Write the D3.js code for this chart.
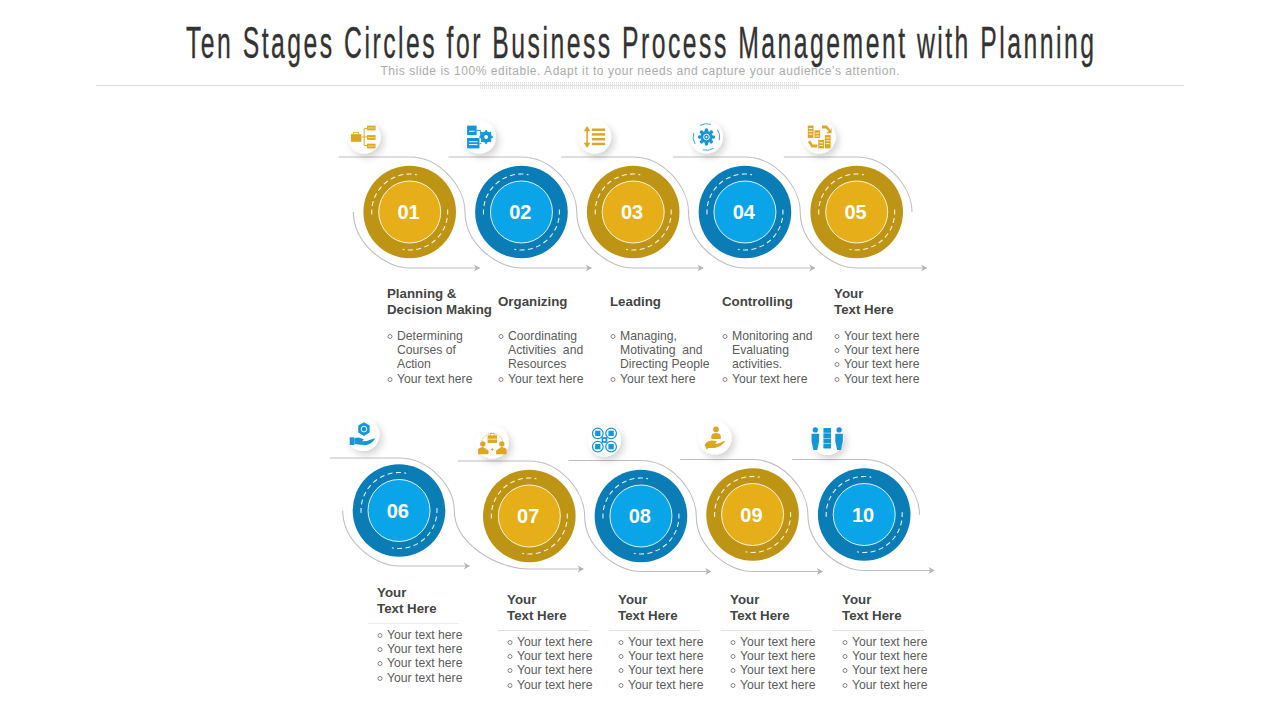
<!DOCTYPE html>
<html><head><meta charset="utf-8">
<script src="https://cdn.jsdelivr.net/npm/d3@7/dist/d3.min.js"></script>
<style>html,body{margin:0;background:#fff}svg{display:block}</style></head>
<body><svg id="c" width="1280" height="720"></svg>
<script>
// ---- data ----
const titleText = "Ten Stages Circles for Business Process Management with Planning";
const subtitleText = "This slide is 100% editable. Adapt it to your needs and capture your audience's attention.";
const stageNumbers = ["01","02","03","04","05","06","07","08","09","10"];
const stageThemes = ["gold","blue","gold","blue","gold","blue","gold","blue","gold","blue"];
const stageHeadings = [
  ["Planning &","Decision Making"],["Organizing"],["Leading"],["Controlling"],["Your","Text Here"],
  ["Your","Text Here"],["Your","Text Here"],["Your","Text Here"],["Your","Text Here"],["Your","Text Here"]];
const yt = "Your text here";
const stageBullets = [
  [["Determining","Courses of","Action"],[yt]],
  [["Coordinating","Activities  and","Resources"],[yt]],
  [["Managing,","Motivating  and","Directing People"],[yt]],
  [["Monitoring and","Evaluating","activities."],[yt]],
  [[yt],[yt],[yt],[yt]],
  [[yt],[yt],[yt],[yt]],[[yt],[yt],[yt],[yt]],[[yt],[yt],[yt],[yt]],[[yt],[yt],[yt],[yt]],[[yt],[yt],[yt],[yt]]];
const stageIcons = ["org","docs","list","gear","swap","handHex","team","cluster","handUser","people"];

// ---- layout (separate from data) ----
const palette = {gold:{outer:"#BE9414",inner:"#E6AE18",icon:"#DCA622"},blue:{outer:"#0A7CB6",inner:"#0AA4E8",icon:"#1596D8"}};
const col = d3.scaleLinear().domain([0,4]);
const xRow = [col.copy().range([409.7,856.7]), col.copy().range([417.7,864.2])];
const xNudge = [0,0,0,0,0,-18.7,0,0,0,0];
const yBase = d3.scaleOrdinal().domain([0,1]).range([212,516]);
const yNudge = [0,0,0,0,0,-5.5,0,0,-1.5,-1.5];
const stage = stageNumbers.map((n,i)=>{
  const r = i<5?0:1, c = i%5;
  return {i,r,c,n,cx:xRow[r](c)+xNudge[i],cy:yBase(r)+yNudge[i],theme:palette[stageThemes[i]],
    heading:stageHeadings[i],bullets:stageBullets[i],icon:stageIcons[i]};
});
const R=46.3, Ri=31, Rd=38;
const badgeOffset = [[-45.5,-75],[-42,-75],[-38.5,-75],[-38.5,-75],[-37.5,-75],[-36,-76],[-37,-74],[-36.5,-76],[-37.5,-76.5],[-37,-76]];
const topLeft = [71,73,72,72,73,69,71.5,72.5,72.5,72];
const pathTop = [157,157,157,157,157,458,461,460.5,459.5,459.5];
const bottomY = [268,268,268,268,268,566,569,571.5,571.5,570.5];
const arrowTipDx = [70,70,70,70,70,70.5,54,70,70,70];
const sweep = 55.3;

const svg = d3.select("#c");
const defs = svg.append("defs");
const f = defs.append("filter").attr("id","sh").attr("x","-60%").attr("y","-60%").attr("width","220%").attr("height","220%");
f.append("feDropShadow").attr("dx",3).attr("dy",4).attr("stdDeviation",3.5).attr("flood-color","#000").attr("flood-opacity",0.17);
const m = defs.append("marker").attr("id","arw").attr("viewBox","0 0 10 10").attr("refX",9).attr("refY",5).attr("markerWidth",8).attr("markerHeight",8).attr("markerUnits","userSpaceOnUse").attr("orient","auto");
m.append("path").attr("d","M2,0.5 L9.5,5 L2,9.5 L4,5 Z").attr("fill","#b5b5b5");

// header
const tScale = 0.55;
const tg = svg.append("g").attr("transform",`translate(640,58) scale(${tScale},1)`);
tg.append("text").attr("text-anchor","middle").attr("font-family","'Liberation Sans Narrow','Liberation Sans',sans-serif")
  .attr("font-size",45).attr("fill","#333").attr("stroke","#333").attr("stroke-width",0.35)
  .attr("textLength",908/tScale).attr("lengthAdjust","spacing").text(titleText);
svg.append("text").attr("x",640).attr("y",75).attr("text-anchor","middle").attr("font-family","'Liberation Sans',sans-serif")
  .attr("font-size",12).attr("fill","#ababab").attr("textLength",519).attr("lengthAdjust","spacing").text(subtitleText);
svg.append("line").attr("x1",96).attr("x2",1184).attr("y1",85.5).attr("y2",85.5).attr("stroke","#dcdcdc");
svg.append("line").attr("x1",480).attr("x2",800).attr("y1",85.5).attr("y2",85.5).attr("stroke","#e6e6e6").attr("stroke-width",7).attr("stroke-dasharray","1 1");

// connectors
const gc = svg.append("g").attr("fill","none").attr("stroke","#bfbfbf").attr("stroke-width",1.1);
function connectorPath(a,b){
  const p=d3.path(), rt=a.cy-pathTop[a.i], tx=a.cx;
  p.moveTo(a.cx-topLeft[a.i],pathTop[a.i]); p.lineTo(tx,pathTop[a.i]);
  const ex=a.cx+sweep, my=a.cy;
  p.bezierCurveTo(tx+(ex-tx)*0.56,pathTop[a.i],ex,my-rt*0.44,ex,my);
  if(b){
    const by=bottomY[b.i], rb=by-my;
    p.bezierCurveTo(ex,my+rb*0.56,b.cx-(b.cx-ex)*0.44,by,b.cx,by);
    p.lineTo(b.cx+arrowTipDx[b.i],by);
  }
  return p.toString();
}
function entryPath(a){
  const p=d3.path(), by=bottomY[a.i], sx=a.cx-sweep-1;
  p.moveTo(sx,a.cy); p.bezierCurveTo(sx,a.cy+(by-a.cy)*0.56,a.cx-sweep*0.44,by,a.cx,by); p.lineTo(a.cx+arrowTipDx[a.i],by);
  return p.toString();
}
[0,1].forEach(r=>{
  const row=stage.filter(s=>s.r===r);
  gc.append("path").attr("d",entryPath(row[0])).attr("marker-end","url(#arw)");
  row.forEach((s,k)=>{const n=row[k+1];
    gc.append("path").attr("d",connectorPath(s,n)).attr("marker-end",n?"url(#arw)":null);});
});

// discs
const discs = svg.selectAll("g.disc").data(stage).join("g").attr("class","disc").attr("transform",d=>`translate(${d.cx},${d.cy})`);
discs.append("circle").attr("r",R).attr("fill",d=>d.theme.outer);
discs.append("circle").attr("r",Ri).attr("fill",d=>d.theme.inner).attr("stroke","#fff").attr("stroke-opacity",.85).attr("stroke-width",1);
function dashArc(a0,a1){const p=d3.path();p.arc(0,0,Rd,a0,a1);return p.toString();}
[[Math.PI*0.98,Math.PI*1.56],[-Math.PI*0.02,Math.PI*0.56]].forEach(([a0,a1])=>{
  discs.append("path").attr("d",dashArc(a0,a1)).attr("fill","none").attr("stroke","#fff").attr("stroke-opacity",.9).attr("stroke-width",1.1).attr("stroke-dasharray","5 3.4");
});
discs.append("text").attr("text-anchor","middle").attr("x",-1.2).attr("y",7).attr("font-family","'Liberation Sans',sans-serif").attr("font-weight",700)
  .attr("font-size",20).attr("fill","#fff").text(d=>d.n);

// icons
function glyph(g,type,c){
  const rect=(x,y,w,h)=>g.append("rect").attr("x",x).attr("y",y).attr("width",w).attr("height",h).attr("fill",c);
  const circ=(x,y,r)=>g.append("circle").attr("cx",x).attr("cy",y).attr("r",r).attr("fill",c);
  const path=(d,w)=>g.append("path").attr("d",d).attr("fill",w?"none":c).attr("stroke",w?c:"none").attr("stroke-width",w||0);
  const W="#fff";
  if(type==="org"){
    rect(-14,-3,11,8); path("M-11,-3v-2h5v2",1);
    path("M-3,0H0M0,-9V9M0,-9H3M0,0H3M0,9H3",1);
    [-12,-2,7].forEach(y=>{rect(3,y,9,5);g.append("path").attr("d",`M4,${y+2.5}h7`).attr("stroke",W).attr("stroke-width",.6);});
  } else if(type==="docs"){
    rect(-13,-12,10,10);rect(-13,1,13,11);
    g.append("path").attr("d","M-11,-6h6M-11,5h9M-11,8h9").attr("stroke",W).attr("stroke-width",1);
    path("M-3,-7H1V-1M0,7H2",1);
    circ(7,0,6);g.append("circle").attr("cx",7).attr("cy",0).attr("r",2).attr("fill",W);
    d3.range(8).forEach(k=>{const a=k*Math.PI/4;circ(7+6.2*Math.cos(a),6.2*Math.sin(a),1.1);});
  } else if(type==="list"){
    [-8,-3,2,7].forEach(y=>rect(-3,y-1,14,2.6));
    path("M-8,-8V8",1.6);path("M-11.5,-6L-8,-11.5L-4.5,-6Z");path("M-11.5,6L-8,11.5L-4.5,6Z");
  } else if(type==="gear"){
    circ(0,0,6.5);d3.range(8).forEach(k=>{const a=k*Math.PI/4;circ(7.2*Math.cos(a),7.2*Math.sin(a),1.9);});
    g.append("circle").attr("r",3).attr("fill","none").attr("stroke",W).attr("stroke-width",1);
    circ(0,0,1).attr("fill",W);
    [-0.6,1.0,2.6,4.2].forEach(a=>{const p=d3.path();p.arc(0,0,14,a,a+.85);path(p.toString(),.9);});
  } else if(type==="swap"){
    rect(-12,-12,6,13);rect(-5,-7,6,8);rect(-1,3,6,9);rect(6,-2,6,14);
    g.append("path").attr("d","M-11,-9h4M-11,-6h4M-11,-3h4M-4,-4h4M-4,-1h4M0,6h4M0,9h4M7,1h4M7,4h4M7,7h4").attr("stroke",W).attr("stroke-width",.9);
    path("M3,-12H8L12,-7L13,-10V-4H7L10,-6L7,-9H3Z");path("M-12,5L-9,4L-7,8L-2,8V11H-8Z");
  } else if(type==="handHex"){
    path("M1,-13L7,-9.5V-2L1,1.5L-5,-2V-9.5Z");
    g.append("circle").attr("cx",1).attr("cy",-5.7).attr("r",3).attr("fill","none").attr("stroke",W).attr("stroke-width",1);
    rect(-14,3,5,8);path("M-9,4C-5,2 -2,4 1,5L-1,7C4,8 8,5 13,4C10,9 5,12 0,11L-9,10Z");
  } else if(type==="team"){
    g.append("path").attr("d","M-11,-1A11.5,11.5 0 0 1 11,-1").attr("fill","none").attr("stroke",c).attr("stroke-width",.8).attr("stroke-dasharray","1.5 1");
    rect(-5,-7,10,8);path("M-2,-7v-2h4v2",.9);
    g.append("path").attr("d","M-5,-3h10").attr("stroke",W).attr("stroke-width",.8);
    circ(-10,2,2.8);circ(10,2,2.8);path("M-15,13V7L-10,5L-4,9V13Z");path("M15,13V7L10,5L4,9V13Z");
    g.append("path").attr("d","M-1.5,8h3M0,6.5v3").attr("stroke",c).attr("stroke-width",1);
  } else if(type==="cluster"){
    [[-7,-7],[7,-7],[-7,7],[7,7]].forEach(([x,y])=>{
      g.append("circle").attr("cx",x).attr("cy",y).attr("r",5.6).attr("fill","none").attr("stroke",c).attr("stroke-width",1.3);
      rect(x-2.8,y-2.8,5.6,5.6);
    });
    rect(-3,-3,6,6);g.append("circle").attr("r",1.3).attr("fill",W);
  } else if(type==="handUser"){
    circ(1,-9,3);path("M-4,-2C-4,-6.5 6,-6.5 6,-2V1H-4Z");
    path("M-11,7C-8,2 -3,2 2,3.5L0,6C4,6 7,4 11,2.5C8,7 4,10.5 -3,10.5L-7,10.5L-9,12Z");
  } else if(type==="people"){
    [-11,-5.5,0,5.5].forEach(y=>rect(-4,y,8,5));
    [-12.5,12.5].forEach(x=>{circ(x,-9,2.8);path(`M${x-4},-5H${x+4}V3L${x+2},12H${x-2}L${x-4},3Z`);});
  }
}
const badges = svg.selectAll("g.badge").data(stage).join("g").attr("class","badge")
  .attr("transform",d=>`translate(${d.cx+badgeOffset[d.i][0]},${d.cy+badgeOffset[d.i][1]})`);
badges.append("circle").attr("r",16.5).attr("fill","#fff").attr("filter","url(#sh)");
badges.each(function(d){glyph(d3.select(this).append("g").attr("transform","scale(0.95)"),d.icon,d.theme.icon);});

// text blocks
const textLeft = [387,498,610,722,834,377,507,618,730,842];
const headY = [298,306,306,306,298,597,604,604,604,604];
const bulletTop = [340,340,340,340,340,639,646,646,646,646];
const ruleColor = ["","","","","","#eeeeee","#dddddd","#e2e2e2","#e2e2e2","#e2e2e2"];
const lh = 14;
const tb = svg.selectAll("g.tb").data(stage).join("g").attr("class","tb").attr("transform",d=>`translate(${textLeft[d.i]},0)`);
tb.each(function(d){
  const g=d3.select(this);
  d.heading.forEach((t,k)=>g.append("text").attr("y",headY[d.i]+k*16).attr("font-family","'Liberation Sans',sans-serif")
    .attr("font-weight",700).attr("font-size",13.3).attr("fill","#454545").text(t));
  if(d.r===1) g.append("line").attr("x1",-9).attr("x2",82).attr("y1",bulletTop[d.i]-15.5).attr("y2",bulletTop[d.i]-15.5).attr("stroke",ruleColor[d.i]);
  let y=bulletTop[d.i];
  const total=d3.sum(d.bullets,b=>b.length); let n=0;
  d.bullets.forEach(lines=>{
    if(n===total-1) y+=1;
    g.append("circle").attr("cx",3).attr("cy",y-3.5).attr("r",2).attr("fill","none").attr("stroke","#666").attr("stroke-width",.8);
    lines.forEach(t=>{
      g.append("text").attr("x",10).attr("y",y).attr("font-family","'Liberation Sans',sans-serif")
      .attr("font-size",12.2).attr("fill","#5c5c5c").attr("xml:space","preserve").text(t); y+=lh; n++;});
  });
});
</script></body></html>
